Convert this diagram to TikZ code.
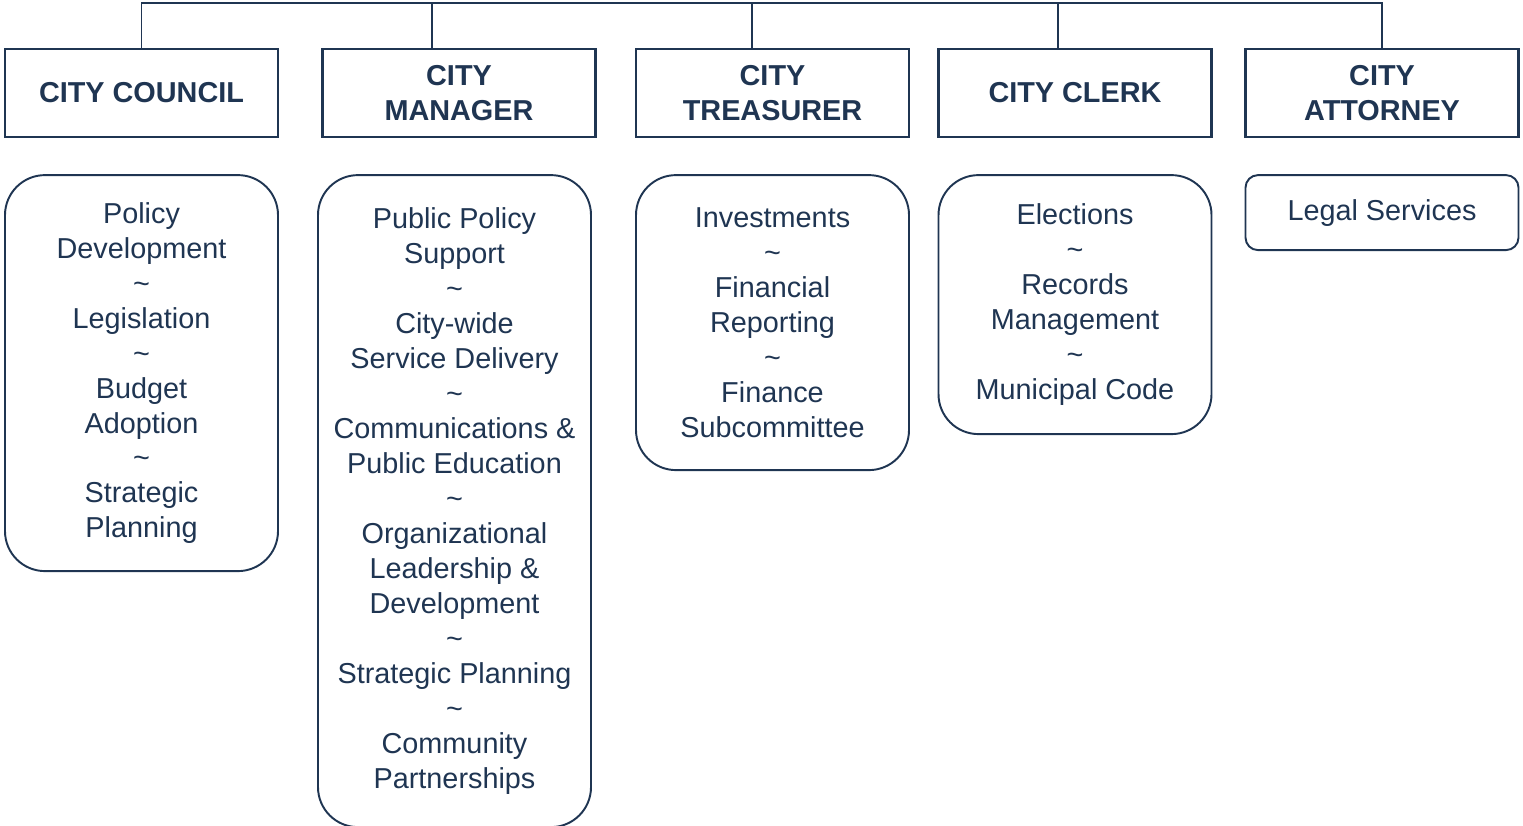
\documentclass[tikz,border=0pt]{standalone}
\usepackage{fontspec}
\setmainfont{Liberation Sans}
\usetikzlibrary{positioning}
\definecolor{navy}{RGB}{31,53,82}

\begin{document}
\begin{tikzpicture}[
  head/.style={draw=navy, line width=1.3pt, minimum width=5.46cm, minimum height=1.76cm,
               align=center, text=navy, inner sep=0pt,
               font=\fontsize{16.4}{19.9}\selectfont\bfseries},
  duty/.style={draw=navy, line width=1.1pt, rounded corners=0.8cm, minimum width=5.46cm,
               align=center, text=navy, inner sep=0pt,
               font=\fontsize{16.4}{19.9}\selectfont, below=0.72cm of #1},
  link/.style={draw=navy, line width=1.1pt},
]
\useasboundingbox (0,0) rectangle (30.46,-16.52);
\newcommand{\sep}{\\\textasciitilde\\}

\node[head] (council)   at (2.83,-1.86)  {CITY COUNCIL};
\node[head] (manager)   at (9.18,-1.86)  {CITY\\MANAGER};
\node[head] (treasurer) at (15.45,-1.86) {CITY\\TREASURER};
\node[head] (clerk)     at (21.5,-1.86)  {CITY CLERK};
\node[head] (attorney)  at (27.64,-1.86) {CITY\\ATTORNEY};

\coordinate (bar) at (0,-0.06);
\draw[link] (council.north) |- (bar -| attorney.north) -- (attorney.north);
\foreach \n/\s in {manager/-0.54, treasurer/-0.41, clerk/-0.34}
  \draw[link] ([xshift=\s cm]\n.north) -- ([xshift=\s cm]\n.north |- bar);

\node[duty=council, minimum height=7.92cm] (councilduty)
  {Policy\\Development\sep Legislation\sep Budget\\Adoption\sep Strategic\\Planning};
\node[duty=manager, minimum height=13.04cm, xshift=-0.09cm] (managerduty)
  {Public Policy\\Support\sep City-wide\\Service Delivery\sep Communications \&\\Public Education\sep
   Organizational\\Leadership \&\\Development\sep Strategic Planning\sep Community\\Partnerships};
\node[duty=treasurer, minimum height=5.9cm] (treasurerduty)
  {Investments\sep Financial\\Reporting\sep Finance\\Subcommittee};
\node[duty=clerk, minimum height=5.18cm] (clerkduty)
  {Elections\sep Records\\Management\sep Municipal Code};
\node[duty=attorney, minimum height=1.5cm, rounded corners=0.25cm] (attorneyduty)
  {Legal Services};
\end{tikzpicture}
\end{document}
